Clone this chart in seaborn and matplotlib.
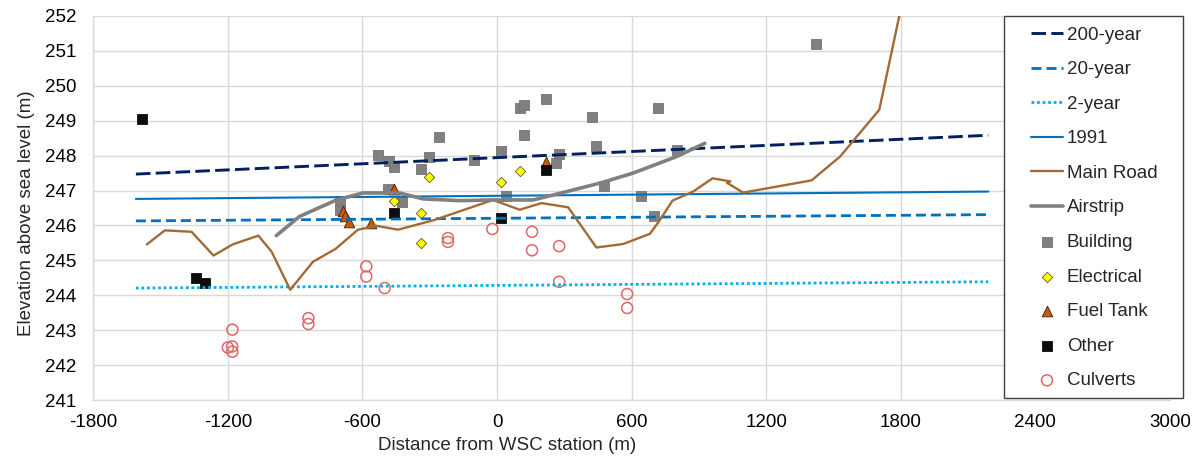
import matplotlib
matplotlib.use("Agg")
import matplotlib.pyplot as plt
import seaborn as sns
from matplotlib.patches import Rectangle

# flood levels, straight lines between two end points
level_x = [-1610, 2190]
y_200 = [247.47, 248.58]
y_20 = [246.13, 246.31]
y_2 = [244.21, 244.39]
y_1991 = [246.76, 246.97]

# main road profile
road_x = [-1561, -1481, -1362, -1264, -1178, -1064, -1005, -922, -821, -720, -620, -538,
          -441, -278, -18, 101, 198, 317, 443, 562, 681, 720, 782, 874, 961, 1040, 1025,
          1097, 1402, 1529, 1704, 1800]
road_y = [245.46, 245.86, 245.82, 245.14, 245.46, 245.71, 245.25, 244.16, 244.96, 245.33, 245.88, 245.99,
          245.88, 246.16, 246.73, 246.45, 246.64, 246.52, 245.37, 245.47, 245.76, 246.10, 246.71, 246.97, 247.35, 247.26, 247.22,
          246.94, 247.29, 247.97, 249.31, 252.2]

# airstrip profile
strip_x = [-984, -880, -716, -598, -434, -330, -166, -18, 161, 280, 458, 607, 800, 926]
strip_y = [245.71, 246.26, 246.73, 246.93, 246.93, 246.76, 246.71, 246.73, 246.73, 246.92, 247.21, 247.50, 247.97, 248.35]

# structures
bld_x = [-702, -700, -532, -482, -461, -261, -303, -340, -103, 18, 101, 121, 217, 119, 277, 262,
         422, 440, 718, 800, 477, 641, 700, -484, -422, 42, 1422]
bld_y = [246.69, 246.45, 248.02, 247.84, 247.66, 248.54, 247.95, 247.62, 247.86, 248.14, 249.35, 249.44, 249.61, 248.60, 248.05, 247.80,
         249.11, 248.28, 249.35, 248.16, 247.14, 246.83, 246.26, 247.04, 246.66, 246.83, 251.19]

elec_x = [-303, -461, -340, 18, 101, -340]
elec_y = [247.40, 246.71, 246.37, 247.23, 247.55, 245.50]

fuel_x = [-687, -680, -660, -563, -461, 217]
fuel_y = [246.40, 246.26, 246.09, 246.07, 247.05, 247.81]

other_x = [-1585, -1344, -1301, -461, 18, 217]
other_y = [249.05, 244.49, 244.35, 246.37, 246.21, 247.59]

culv_x = [-1180, -1200, -1181, -1180, -841, -841, -583, -583, -501, -219, -219, -21, 156, 156, 277, 277, 580, 580]
culv_y = [243.02, 242.51, 242.54, 242.39, 243.35, 243.18, 244.83, 244.54, 244.21, 245.64, 245.53, 245.90, 245.82, 245.29, 245.41, 244.39, 244.04, 243.64]

sns.set_style("whitegrid")
plt.rcParams['font.family'] = ['Liberation Sans', 'DejaVu Sans']
plt.rcParams['font.size'] = 13.5
plt.rcParams['axes.unicode_minus'] = False

fig = plt.figure(figsize=(12.02, 4.59), dpi=100)
ax = fig.add_axes([0.0776, 0.1279, 0.8958, 0.8379])

sns.lineplot(x=level_x, y=y_200, ax=ax, color='#002060', lw=2.1, label='200-year')
ax.lines[-1].set_dashes((5.0, 1.8))
sns.lineplot(x=level_x, y=y_20, ax=ax, color='#0070C0', lw=2, label='20-year')
ax.lines[-1].set_dashes((3.6, 1.8))
sns.lineplot(x=level_x, y=y_2, ax=ax, color='#00B0F0', lw=2, label='2-year')
ax.lines[-1].set_dashes((1, 1))
sns.lineplot(x=level_x, y=y_1991, ax=ax, color='#0070C0', lw=1.5, label='1991')
sns.lineplot(x=road_x, y=road_y, ax=ax, color='#A26A35', lw=1.7, sort=False, estimator=None, label='Main Road')
sns.lineplot(x=strip_x, y=strip_y, ax=ax, color='#808080', lw=2.6, sort=False, estimator=None, label='Airstrip')

sns.scatterplot(x=bld_x, y=bld_y, ax=ax, marker='s', s=56, color='#808080', edgecolor='#737373', linewidth=0.6, label='Building')
sns.scatterplot(x=elec_x, y=elec_y, ax=ax, marker='D', s=28, color='#FFFF00', edgecolor='#5a5a2a', linewidth=0.6, label='Electrical')
sns.scatterplot(x=fuel_x, y=fuel_y, ax=ax, marker='^', s=58, color='#C55A11', edgecolor='#5a2a08', linewidth=0.7, label='Fuel Tank')
sns.scatterplot(x=other_x, y=other_y, ax=ax, marker='s', s=56, color='#0d0d0d', edgecolor='#0d0d0d', linewidth=0.6, label='Other')
sns.scatterplot(x=culv_x, y=culv_y, ax=ax, marker='o', s=63, facecolor='none', edgecolor='#E06666', linewidth=1.1, label='Culverts')

ax.set_xlim(-1800, 3000)
ax.set_ylim(241, 252)
ax.set_xticks(range(-1800, 3001, 600))
ax.set_yticks(range(241, 253))
ax.grid(True, color='#d9d9d9', linewidth=1)
for s in ['top', 'right']:
    ax.spines[s].set_visible(False)
for s in ['left', 'bottom']:
    ax.spines[s].set_color('#d9d9d9')
    ax.spines[s].set_linewidth(1)
ax.tick_params(axis='both', length=0, labelsize=13.5, colors='#000000')
ax.tick_params(axis='y', pad=12)
ax.tick_params(axis='x', pad=10)

ax.set_xlabel('Distance from WSC station (m)', fontsize=13.5)
ax.set_ylabel('Elevation above sea level (m)', fontsize=13.5)
ax.xaxis.set_label_coords(0.384, -0.095)
ax.yaxis.set_label_coords(-0.054, 0.486)

handles, labels = ax.get_legend_handles_labels()
ax.get_legend().remove()

# legend box drawn on the figure, over the right end of the plot
box = Rectangle((1004 / 1202, 1 - 398 / 459), 179 / 1202, 382 / 459, transform=fig.transFigure,
                facecolor='white', edgecolor='#404040', linewidth=1, zorder=2)
fig.patches.append(box)
leg = fig.legend(handles, labels, loc='upper left', bbox_to_anchor=(1031 / 1202, 1 - 26.5 / 459),
                 borderaxespad=0, borderpad=0, fontsize=13.5, frameon=False,
                 handlelength=1.71, handletextpad=0.21, labelspacing=0.93)
leg.set_zorder(5)

fig.savefig('out.png', dpi=100)
